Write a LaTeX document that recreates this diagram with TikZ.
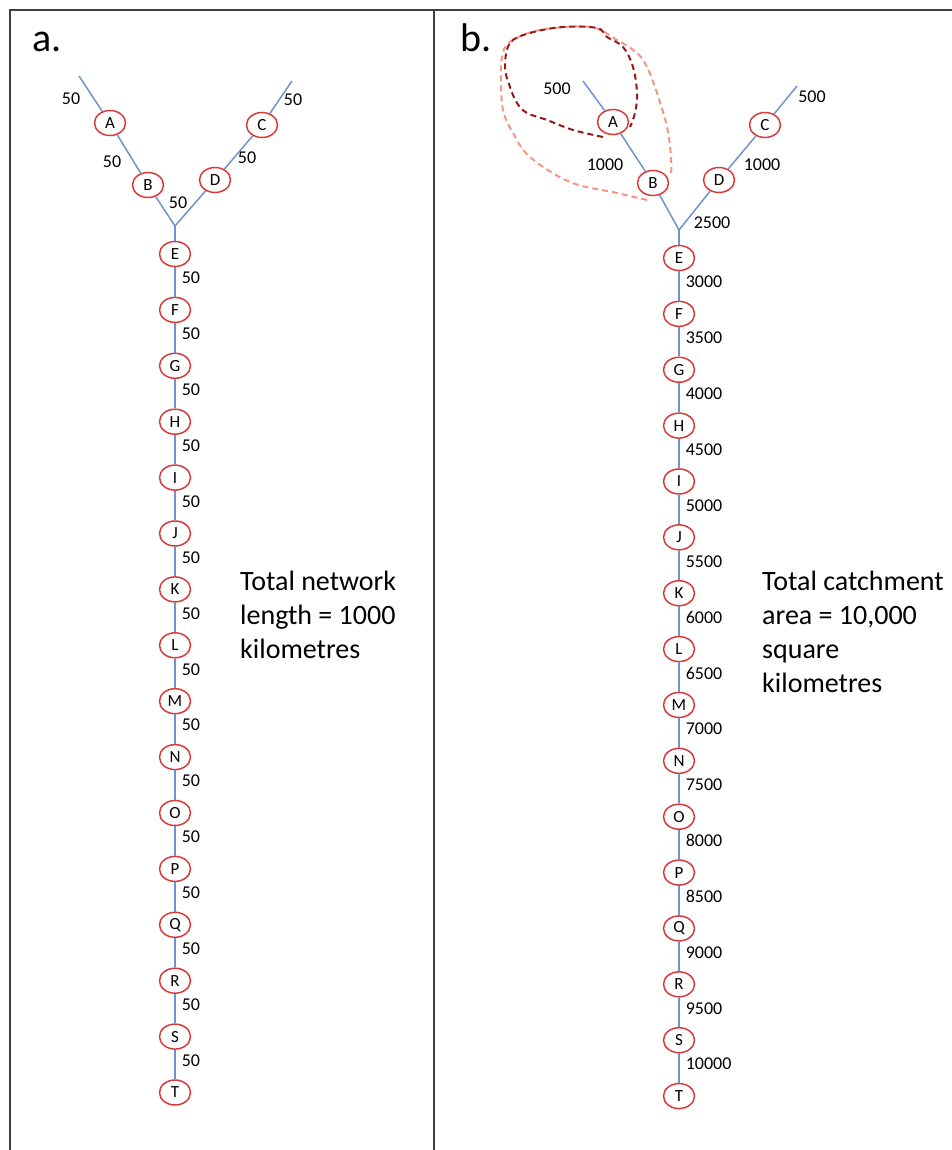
\documentclass[tikz,border=0pt]{standalone}
\usepackage{fontspec}
\setmainfont{Carlito}
\usetikzlibrary{shapes.geometric}
\definecolor{riverblue}{RGB}{112,146,208}
\definecolor{stnred}{RGB}{218,58,58}
\definecolor{innerloop}{RGB}{150,25,25}
\definecolor{outerloop}{RGB}{246,150,130}

\begin{document}
\begin{tikzpicture}[
	x = 1pt, y = -1pt,
	stn/.style = {draw=stnred, line width=1.5pt, ellipse, fill=white, inner sep=0pt,
		minimum width=31pt, minimum height=25pt, font=\fontsize{17}{17}\selectfont},
	river/.style = {draw=riverblue, line width=1.5pt},
	len/.style = {inner sep=1pt, font=\fontsize{18}{18}\selectfont},
	flow/.style = {len, anchor=west, xshift=5pt, yshift=4pt},
	tag/.style = {anchor=base west, inner sep=0pt, font=\fontsize{40}{40}\selectfont},
	note/.style = {align=left, anchor=north west, inner sep=0pt, font=\fontsize{28}{34}\selectfont},
	panel/.style = {draw=black!75, line width=2pt},
	loopline/.style = {dashed, dash pattern=on 6pt off 4pt, line width=2pt}
	]
	
	\useasboundingbox (0,0) rectangle (952,1150);
	
	% frame of the two panels
	\draw[panel] (10,1150) -- (10,10) -- (952,10);
	\draw[panel] (434,10) -- (434,1150);
	
	% a. network length
	\node[tag] (taga) at (32,52) {a.};
	\coordinate (aTopL) at (79,76);
	\coordinate (aTopR) at (292,81);
	\coordinate (aFork) at (175,226);
	\node[stn] (aA) at (110,123) {A};
	\node[stn] (aB) at (148,185) {B};
	\node[stn] (aC) at (262,125) {C};
	\node[stn] (aD) at (215,180) {D};
	\foreach \n [count=\i from 0] in {E,F,G,H,I,J,K,L,M,N,O,P,Q,R,S,T}
		\node[stn] (a\n) at (175,254+55.9*\i) {\n};
	
	\draw[river] (aTopL) -- (aA) -- (aB) -- (aFork) -- (aD) -- (aC) -- (aTopR);
	\draw[river] (aFork) -- (aE);
	\foreach \p/\q in {E/F,F/G,G/H,H/I,I/J,J/K,K/L,L/M,M/N,N/O,O/P,P/Q,Q/R,R/S,S/T}
		\draw[river] (a\p) -- (a\q) node[flow, midway] {50};
	
	\node[len] (la1) at (71,99) {50};
	\node[len] (la2) at (112,162) {50};
	\node[len] (la3) at (178,203) {50};
	\node[len] (la4) at (293,100) {50};
	\node[len] (la5) at (247,158) {50};
	
	\node[note] (suma) at (240,571) {Total network\\length = 1000\\kilometres};
	
	% b. catchment area
	\node[tag] (tagb) at (460,52) {b.};
	\coordinate (bTopL) at (583,81);
	\coordinate (bTopR) at (797,86);
	\coordinate (bFork) at (679,230);
	\node[stn] (bA) at (613,122) {A};
	\node[stn] (bB) at (653,183) {B};
	\node[stn] (bC) at (765,125) {C};
	\node[stn] (bD) at (719,180) {D};
	\foreach \n [count=\i from 0] in {E,F,G,H,I,J,K,L,M,N,O,P,Q,R,S,T}
		\node[stn] (b\n) at (679,258+55.87*\i) {\n};
	
	\draw[river] (bTopL) -- (bA) -- (bB) -- (bFork) -- (bD) -- (bC) -- (bTopR);
	\draw[river] (bFork) -- (bE);
	\foreach \p/\q/\v in {E/F/3000,F/G/3500,G/H/4000,H/I/4500,I/J/5000,J/K/5500,
		K/L/6000,L/M/6500,M/N/7000,N/O/7500,O/P/8000,P/Q/8500,Q/R/9000,R/S/9500,S/T/10000}
		\draw[river] (b\p) -- (b\q) node[flow, midway] {\v};
	
	\node[len] (lb1) at (557,89) {500};
	\node[len] (lb2) at (605,165) {1000};
	\node[len] (lb3) at (712,223) {2500};
	\node[len] (lb4) at (812,97) {500};
	\node[len] (lb5) at (762,165) {1000};
	
	% sub-catchments of A and B
	\draw[loopline, outerloop] plot[smooth, tension=0.6] coordinates {
		(647,200) (617,193) (570,182) (530,157) (513,133) (503,110) (501,80) (502,57)
		(510,42) (540,30) (590,27) (617,40) (637,53) (647,67) (657,93) (667,127) (671,157) (671,177)};
	\draw[loopline, innerloop] plot[smooth, tension=0.6] coordinates {
		(603,137) (573,130) (547,120) (527,113) (517,103) (510,87) (505,67) (510,43)
		(530,33) (563,27) (597,28) (607,37) (623,47) (633,67) (637,93) (635,113) (630,127)};
	
	\node[note] (sumb) at (762,571) {Total catchment\\area = 10,000\\square\\kilometres};
\end{tikzpicture}
\end{document}
